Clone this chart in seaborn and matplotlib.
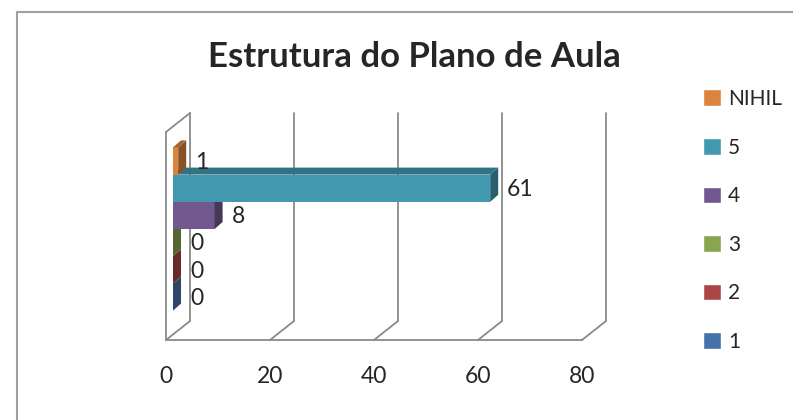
import numpy as np
import pandas as pd
import matplotlib
matplotlib.use('Agg')
import matplotlib.pyplot as plt
from matplotlib.patches import Polygon, Rectangle, Patch
import seaborn as sns

# data
series = ['NIHIL', '5', '4', '3', '2', '1']
values = [1, 61, 8, 0, 0, 0]
colors = ['#DB843D', '#4198AF', '#71588F', '#89A54E', '#AA4644', '#4672AA']
xticks = [0, 20, 40, 60, 80]
title = 'Estrutura do Plano de Aula'

sns.set_style('white')
plt.rcParams['font.family'] = ['Lato', 'DejaVu Sans']

W, H = 793, 420
fig = plt.figure(figsize=(W / 100, H / 100), dpi=100)

# front plane of the fake 3d box, in pixels
x0, x1, ytop, ybot = 166, 582, 132, 340
ax = fig.add_axes([x0 / W, 1 - ybot / H, (x1 - x0) / W, (ybot - ytop) / H])

df = pd.DataFrame({'serie': series, 'valor': values})
sns.barplot(data=df, x='valor', y='serie', hue='serie', order=series,
            palette=colors, saturation=1, width=1.0, legend=False, ax=ax)

ylo, yhi = -1.066, 6.58
ax.set_xlim(0, 80)
ax.set_ylim(yhi, ylo)

# pixel -> data
sx = 80 / (x1 - x0)
sy = (yhi - ylo) / (ybot - ytop)

grey = '#8a8a8a'
shift = 7 * sx               # bars sit a bit behind the front plane
ddx, ddy = 8 * sx, -7 * sy   # bar depth
bx, by = 24 * sx, -19 * sy   # back wall offset

# bars: front face + side + top, drawn from bottom bar to top bar
for p in ax.patches:
    i = int(round(p.get_y() + p.get_height() / 2))
    v = values[i]
    c = np.array(matplotlib.colors.to_rgb(colors[i]))
    z = 10 + (len(series) - i) * 3
    p.set_x(p.get_x() + shift)
    p.set_zorder(z)
    p.set_edgecolor('none')
    xl, xr = shift, shift + v
    yt, yb = i - 0.5, i + 0.5
    side = Polygon([(xr, yt), (xr, yb), (xr + ddx, yb + ddy), (xr + ddx, yt + ddy)],
                   closed=True, facecolor=c * 0.62, edgecolor='none', zorder=z + 1)
    top = Polygon([(xl, yt), (xr, yt), (xr + ddx, yt + ddy), (xl + ddx, yt + ddy)],
                  closed=True, facecolor=c * 0.75, edgecolor='none', zorder=z + 1)
    ax.add_patch(side)
    ax.add_patch(top)
    ax.text(v, i + 0.05, str(v), fontsize=16.5, va='center', ha='left',
            transform=ax.transData + matplotlib.transforms.ScaledTranslation(24 / 100, 0, fig.dpi_scale_trans),
            zorder=40)

# back wall gridlines + floor diagonals
lw = 1.3
for t in xticks:
    ax.plot([t, t + bx], [yhi, yhi + by], color=grey, lw=lw, clip_on=False, zorder=1)
    ax.plot([t + bx, t + bx], [yhi + by, ylo + by], color=grey, lw=lw, clip_on=False, zorder=1)
# left wall
ax.plot([0, 0], [yhi, ylo], color=grey, lw=lw, clip_on=False, zorder=2)
ax.plot([0, bx], [ylo, ylo + by], color=grey, lw=lw, clip_on=False, zorder=2)

sns.despine(ax=ax, left=True, top=True, right=True)
ax.spines['bottom'].set_color(grey)
ax.spines['bottom'].set_linewidth(lw)
ax.set_xticks(xticks)
ax.set_yticks([])
ax.set_xlabel('')
ax.set_ylabel('')
ax.tick_params(axis='x', length=7, width=lw, color=grey, labelsize=16.5, pad=12)
ax.patch.set_visible(False)

fig.text(414 / W, 1 - 57 / H, title, fontsize=25, fontweight='bold', ha='center', va='center')

handles = [Patch(facecolor=c, label=s) for s, c in zip(series, colors)]
fig.legend(handles=handles, loc='upper left', bbox_to_anchor=(703 / W, 1 - 89 / H),
           frameon=False, fontsize=15, handlelength=0.85, handleheight=0.85,
           handletextpad=0.35, labelspacing=1.37, borderpad=0, borderaxespad=0)

# chart area border
fig.add_artist(Rectangle((17 / W, -0.1), 1.2, 1 - 12 / H + 0.1, transform=fig.transFigure,
                         fill=False, edgecolor='#a0a0a0', lw=1.5))

fig.savefig('out.png', dpi=100)
